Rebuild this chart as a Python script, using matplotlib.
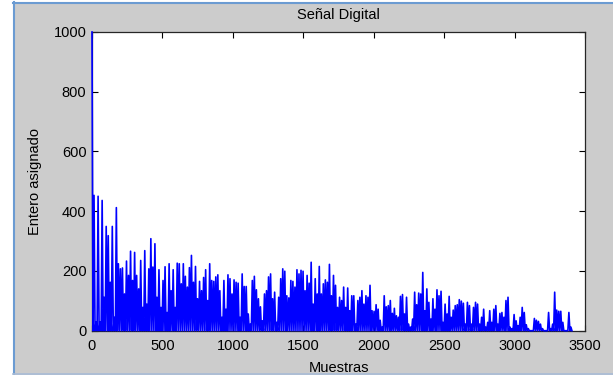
import numpy as np
import matplotlib.pyplot as plt
from matplotlib.lines import Line2D
from matplotlib.patches import Rectangle

# Valores pico de la señal (cada ~14 muestras), de izquierda a derecha
picos_a = [1000, 453, 30, 450, 30, 436, 112, 349, 318, 162, 349, 45, 412, 224, 207,
           210, 123, 233, 185, 266, 168, 262, 185, 140, 235, 78, 268, 89, 207, 308,
           213, 291, 112, 204, 78, 168, 214, 61, 224, 134, 204, 78, 226]
picos_b = [224, 157, 224, 182, 146, 211, 252, 162, 215, 107, 165, 134, 178, 204, 101,
           224, 168, 165, 180, 187, 134, 45, 168, 72, 187, 174, 123, 170, 162, 159,
           45, 190, 148, 148, 56, 22, 168, 182, 137, 107, 80, 33, 123]
picos_c = [134, 180, 190, 107, 129, 28, 112, 174, 207, 199, 117, 110, 168, 165, 146,
           204, 190, 202, 199, 134, 185, 159, 229, 89, 174, 123, 215, 123, 157, 170,
           162, 222, 117, 185, 152, 78, 112, 101, 146, 78, 143, 67, 117]
picos_d = [117, 22, 101, 112, 134, 89, 117, 112, 152, 67, 65, 87, 72, 35, 12,
           117, 80, 84, 101, 58, 75, 50, 45, 115, 121, 56, 112, 22, 12, 39,
           129, 87, 126, 123, 195, 67, 140, 95, 39, 107, 72, 137, 117]
picos_e = [132, 28, 89, 56, 115, 45, 69, 84, 87, 104, 99, 92, 22, 95, 84,
           22, 78, 95, 89, 22, 45, 72, 12, 28, 67, 28, 72, 84, 22, 58,
           61, 45, 101, 112, 12, 7, 54, 33, 17, 45, 78, 61, 20]
picos_f = [7, 0, 0, 41, 35, 31, 22, 7, 0, 0, 61, 7, 22, 129, 69, 65, 65, 28, 0, 0, 61, 12]

n_muestras = 3400
valle = 0

x_ticks = [0, 500, 1000, 1500, 2000, 2500, 3000, 3500]
y_ticks = [0, 200, 400, 600, 800, 1000]

picos = np.array(picos_a + picos_b + picos_c + picos_d + picos_e + picos_f, dtype=float)
pos = np.linspace(0, n_muestras, len(picos))
paso = pos[1] - pos[0]

# intercalar cada pico con el valle siguiente
x = np.empty(2 * len(picos))
y = np.empty(2 * len(picos))
x[0::2] = pos
x[1::2] = pos + paso / 2
y[0::2] = picos
y[1::2] = valle

plt.rcParams['font.family'] = ['Liberation Sans', 'DejaVu Sans']

W, H = 613, 375
fig = plt.figure(figsize=(W / 100, H / 100), dpi=100, facecolor='#cccccc')

# marco de la ventana
fig.add_artist(Rectangle((0, 0), 13 / W, 1, transform=fig.transFigure,
                         facecolor='white', edgecolor='none', zorder=0))
fig.add_artist(Rectangle((0, 1 - 2 / H), 1, 2 / H, transform=fig.transFigure,
                         facecolor='white', edgecolor='none', zorder=0))
fig.add_artist(Line2D([13.5 / W, 13.5 / W], [0, 1 - 2 / H], transform=fig.transFigure,
                      color='#6b9bd2', lw=1.5))
fig.add_artist(Line2D([13 / W, 1], [1 - 3 / H, 1 - 3 / H], transform=fig.transFigure,
                      color='#6b9bd2', lw=1.5))
fig.add_artist(Line2D([13 / W, 1], [1.2 / H, 1.2 / H], transform=fig.transFigure,
                      color='#a9bcd6', lw=1.2))

ax = fig.add_axes([92 / W, 1 - 330.7 / H, (585 - 92) / W, (330.7 - 32) / H])
ax.plot(x, y, color='#0000ff', lw=1.2, zorder=3, clip_on=False)

ax.set_xlim(0, 3500)
ax.set_ylim(0, 1000)
ax.set_xticks(x_ticks)
ax.set_yticks(y_ticks)
ax.tick_params(direction='in', top=True, right=True, length=4, width=0.8,
               labelsize=10.5, colors='black', pad=4)
ax.tick_params(axis='x', pad=6)
for s in ax.spines.values():
    s.set_color('#262626')
    s.set_linewidth(0.9)

ax.set_title('Señal Digital', fontsize=10.5, pad=9)
ax.set_xlabel('Muestras', fontsize=10.5, labelpad=6)
ax.set_ylabel('Entero asignado', fontsize=10.5, labelpad=8)

fig.savefig('out.png', dpi=100, facecolor=fig.get_facecolor())
